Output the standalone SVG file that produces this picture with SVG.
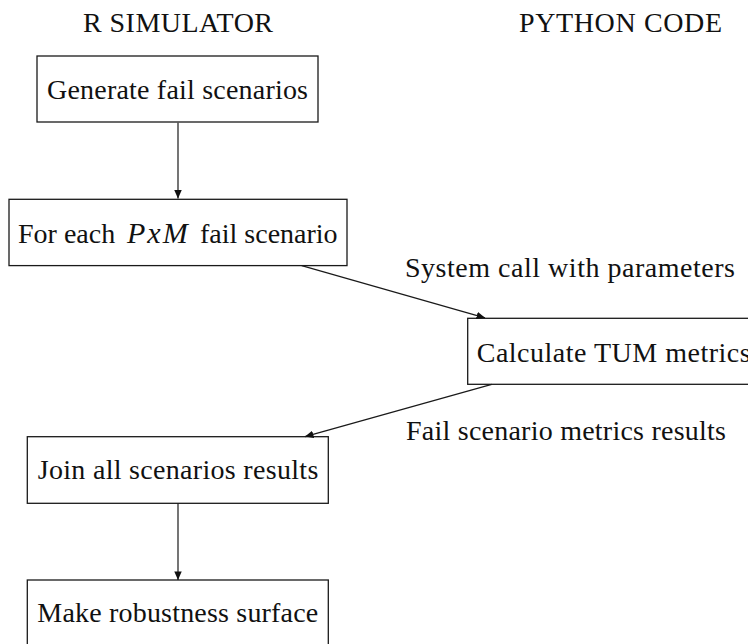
<svg xmlns="http://www.w3.org/2000/svg" width="748" height="644" viewBox="0 0 748 644">
  <style>
    .box { fill: #ffffff; stroke: #1a1a1a; stroke-width: 1.3; }
    .txt { font-family: "Liberation Serif", "DejaVu Serif", "Times New Roman", serif; font-size: 28px; fill: #111111; }
    .it { font-style: italic; font-size: 30px; letter-spacing: 2px; }
    .edge { fill: none; stroke: #1a1a1a; stroke-width: 1.2; marker-end: url(#arrow); }
  </style>
  <defs>
    <marker id="arrow" markerUnits="userSpaceOnUse" markerWidth="9" markerHeight="8" refX="8.5" refY="3.75" orient="auto">
      <path d="M0,0 L8.5,3.75 L0,7.5 z" fill="#111111"/>
    </marker>
  </defs>

  <rect width="748" height="644" fill="#ffffff"/>

  <!-- column headings -->
  <g id="headings">
    <text class="txt" x="83" y="32" textLength="190">R SIMULATOR</text>
    <text class="txt" x="519" y="32" textLength="203">PYTHON CODE</text>
  </g>

  <!-- process steps -->
  <g id="generate">
    <rect class="box" x="37" y="56" width="281" height="66"/>
    <text class="txt" x="47" y="99.3" textLength="261">Generate fail scenarios</text>
  </g>

  <g id="foreach">
    <rect class="box" x="9" y="199.3" width="338" height="66.3"/>
    <text class="txt" y="243.3"><tspan x="18">For each</tspan><tspan class="it" x="127">PxM</tspan><tspan x="200">fail scenario</tspan></text>
  </g>

  <g id="tum">
    <rect class="box" x="467.7" y="318.3" width="292" height="66"/>
    <text class="txt" x="476.7" y="361.7" textLength="274">Calculate TUM metrics</text>
  </g>

  <g id="join">
    <rect class="box" x="27.3" y="436.7" width="301" height="66.6"/>
    <text class="txt" x="37.7" y="479.3" textLength="280.6">Join all scenarios results</text>
  </g>

  <g id="surface">
    <rect class="box" x="27.3" y="580" width="301" height="66"/>
    <text class="txt" x="37.3" y="621.7" textLength="281">Make robustness surface</text>
  </g>

  <!-- connectors -->
  <g id="connectors">
    <line class="edge" x1="178" y1="122.7" x2="178" y2="198.6"/>
    <line class="edge" x1="301.7" y1="265.7" x2="485" y2="317.8"/>
    <line class="edge" x1="491.7" y1="384.3" x2="305" y2="436.6"/>
    <line class="edge" x1="178" y1="503.3" x2="178" y2="579.9"/>
  </g>

  <!-- connector labels -->
  <g id="edge-labels">
    <text class="txt" x="405" y="277" textLength="330">System call with parameters</text>
    <text class="txt" x="406" y="440" textLength="320">Fail scenario metrics results</text>
  </g>
</svg>
